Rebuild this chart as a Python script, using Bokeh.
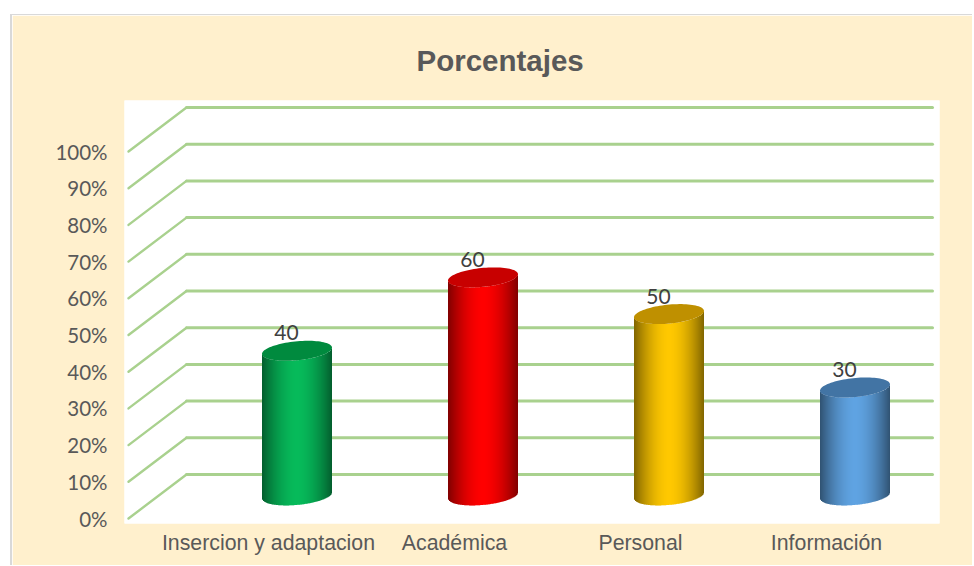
import numpy as np
from bokeh.plotting import figure
from bokeh.models import ColumnDataSource, FixedTicker
from bokeh.core.properties import value
from bokeh.embed import file_html
from bokeh.resources import INLINE

categories = ["Insercion y adaptacion", "Académica", "Personal", "Información"]
values = [40, 60, 50, 30]
y_ticks = [0, 10, 20, 30, 40, 50, 60, 70, 80, 90, 100]
y_tick_labels = ["0%", "10%", "20%", "30%", "40%", "50%", "60%", "70%", "80%", "90%", "100%"]
center_colors = ["#06BA5A", "#FF0000", "#FFC800", "#5FA3E2"]
top_colors = ["#008A3E", "#C80000", "#BF9000", "#4274A4"]

# page-pixel geometry of the pseudo-3D scene
PX0, PXU = 268.0, 186.0      # page x of first category (front plane), page px per category
PY0, PYU = 518.0, 3.67       # page y of value 0 (front plane), page px per value unit
DEPTH_X, DEPTH_Y = 58.0 / PXU, 44.0 / PYU
def X(px): return (px - PX0) / PXU
def Y(py): return (PY0 - py) / PYU

W, H = 974, 566
BL, BT = 2, 1        # grey panel edge
ML, MT = 10, 14      # white page margin round the chart panel
OX, OY = ML + BL, MT + BT
p = figure(width=W - OX, height=H - OY, output_backend="svg", toolbar_location=None,
           x_range=(X(124), X(939)), y_range=(Y(523), Y(100)),
           min_border_left=124 - OX, min_border_right=W - 939, min_border_top=100 - OY, min_border_bottom=H - 523,
           background_fill_color="white", border_fill_color="#FFF0CD", outline_line_color=None,
           margin=(MT, 0, 0, ML))
p.title.text = "Porcentajes"
p.title.text_font = "Liberation Sans"
p.title.text_font_size = "29.5px"
p.title.text_font_style = "bold"
p.title.text_color = "#595959"
p.title.align = "left"
p.title.offset = 292
p.title.standoff = 48
p.grid.visible = False

p.yaxis.ticker = FixedTicker(ticks=y_ticks)
p.yaxis.major_label_overrides = dict(zip(y_ticks, y_tick_labels))
p.yaxis.major_label_text_font = "Lato"
p.yaxis.major_label_text_font_size = "20.5px"
p.yaxis.major_label_text_color = "#595959"
p.yaxis.major_label_standoff = 11
p.xaxis.ticker = FixedTicker(ticks=list(range(len(categories))))
p.xaxis.major_label_overrides = dict(enumerate(categories))
p.xaxis.major_label_text_font = "Liberation Sans"
p.xaxis.major_label_text_font_size = "21.3px"
p.xaxis.major_label_text_color = "#595959"
p.xaxis.major_label_standoff = 1
for ax in (p.xaxis, p.yaxis):
    ax.axis_line_color = None
    ax.major_tick_line_color = None
    ax.minor_tick_line_color = None

p.styles = {"border-left": f"{BL}px solid #D9D9D9", "border-top": f"{BT}px solid #D9D9D9"}

# walls: diagonal side lines and horizontal back lines
x_left, x_right = X(128), X(932 - 58)
grid = "#A9D18E"
p.multi_line([[x_left, x_left + DEPTH_X] for _ in y_ticks],
             [[v, v + DEPTH_Y] for v in y_ticks], line_color=grid, line_width=2.4, line_cap="round")
p.multi_line([[x_left + DEPTH_X, x_right + DEPTH_X] for _ in y_ticks],
             [[v + DEPTH_Y, v + DEPTH_Y] for v in y_ticks], line_color=grid, line_width=3, line_cap="round")

# cylinders
A_PX, B_PX, TILT = 35.0, 9.5, 0.09
BASE = 0.6
def mix(hex_c, f):
    rgb = [int(hex_c[i:i + 2], 16) for i in (1, 3, 5)]
    return "#%02x%02x%02x" % tuple(int(round(c * f)) for c in rgb)

u = np.linspace(-1, 1, 71)
edge_lo = TILT * A_PX * u - B_PX * np.sqrt(1 - u ** 2)   # front edge of an ellipse, in px upward
for i, (v, cc, tc) in enumerate(zip(values, center_colors, top_colors)):
    cx = i + DEPTH_X / 2 - 0.5 / PXU
    cy = DEPTH_Y / 2 - 0.3
    xs = cx + u * A_PX / PXU
    strips = dict(left=[], right=[], top=[], bottom=[], color=[])
    for j in range(len(u) - 1):
        um = (u[j] + u[j + 1]) / 2
        strips["left"].append(xs[j])
        strips["right"].append(xs[j + 1] + 0.4 / PXU if j < len(u) - 2 else xs[j + 1])
        strips["top"].append(cy + v + (edge_lo[j] + edge_lo[j + 1]) / 2 / PYU)
        strips["bottom"].append(cy + BASE + (edge_lo[j] + edge_lo[j + 1]) / 2 / PYU)
        strips["color"].append(mix(cc, 0.5 + 0.5 * (1 - abs(um) ** 1.8)))
    p.quad(left="left", right="right", top="top", bottom="bottom", source=ColumnDataSource(strips),
           fill_color="color", line_color=None)
    t = np.linspace(0, 2 * np.pi, 90)
    ex = A_PX * np.cos(t)
    ey = B_PX * np.sin(t) + TILT * ex
    p.patch(cx + ex / PXU, cy + v + ey / PYU, fill_color=tc, line_color=None)

# data labels
p.text([i + DEPTH_X / 2 for i in range(len(values))], [v + DEPTH_Y / 2 for v in values],
       text=[str(v) for v in values], text_font=value("Lato"), text_font_size="21px",
       text_color="#404040", text_align="center", text_baseline="middle", x_offset=-11, y_offset=-17)

open("out.html", "w").write(file_html(p, INLINE))
